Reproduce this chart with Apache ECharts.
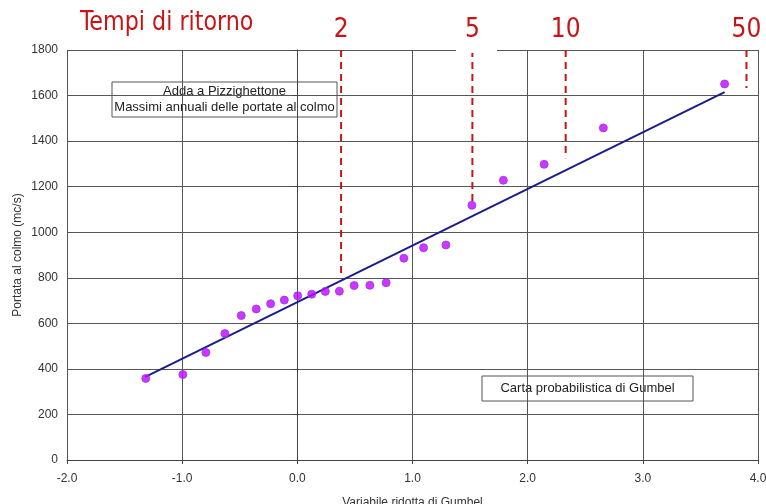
<!DOCTYPE html>
<html>
<head>
<meta charset="utf-8">
<script src="https://cdn.jsdelivr.net/npm/echarts@6/dist/echarts.min.js"></script>
<style>
  html, body { margin: 0; padding: 0; background: #fff; }
  #chart { width: 766px; height: 504px; }
</style>
</head>
<body>
<div id="chart"></div>
<script>
// Gumbel reduced variate of each ranked annual maximum
const reducedVariate = [-1.316, -0.994, -0.794, -0.629, -0.487, -0.357, -0.232, -0.113, 0.003, 0.125,
  0.243, 0.365, 0.493, 0.630, 0.771, 0.925, 1.096, 1.290, 1.516, 1.789, 2.143, 2.657, 3.710];
// Annual peak discharge (mc/s)
const peakDischarge = [358, 375, 472, 555, 634, 663, 686, 702, 721, 728,
  740, 741, 766, 767, 778, 886, 932, 944, 1118, 1228, 1298, 1458, 1651];
// Fitted Gumbel line end points
const fitX = [-1.32, 3.71];
const fitY = [365, 1615];
// Return periods and their reduced variate / line end on the chart
const returnPeriods = ['2', '5', '10', '50'];
const returnX = [0.38, 1.52, 2.33, 3.90];
const returnYEnd = [800, 1118, 1325, 1633];
const xTicks = { min: -2, max: 4, step: 1 };
const yTicks = { min: 0, max: 1800, step: 200 };

const chart = echarts.init(document.getElementById('chart'), null, { renderer: 'canvas' });
const axisFont = { fontFamily: 'Liberation Sans, Arial, sans-serif', fontSize: 12, color: '#333' };
const red = '#c81414';
const redFont = 'DejaVu Sans Condensed, Liberation Sans Narrow, sans-serif';

const returnSeries = returnPeriods.map((t, i) => ({
  type: 'line',
  silent: true,
  symbol: 'none',
  lineStyle: { color: red, width: 2, type: [7, 5] },
  data: [
    { value: [returnX[i], yTicks.max], symbol: 'circle', symbolSize: 0.1,
      label: { show: true, position: 'top', distance: 7, formatter: t,
        color: red, fontSize: 26, fontFamily: redFont } },
    [returnX[i], returnYEnd[i]]
  ],
  z: 4
}));

chart.setOption({
  animation: false,
  backgroundColor: '#fff',
  grid: { left: 67, right: 8, top: 50, bottom: 44, containLabel: false, outerBoundsMode: 'none' },
  xAxis: {
    type: 'value', min: xTicks.min, max: xTicks.max, interval: xTicks.step,
    name: 'Variabile ridotta di Gumbel', nameLocation: 'middle', nameGap: 37,
    nameMoveOverlap: false,
    nameTextStyle: axisFont,
    axisLine: { show: true, onZero: false, lineStyle: { color: '#444', width: 1 } },
    axisTick: { show: true, length: 4, lineStyle: { color: '#444' } },
    axisLabel: { ...axisFont, margin: 13, formatter: v => v.toFixed(1) },
    splitLine: { show: true, lineStyle: { color: '#555', width: 1 } }
  },
  yAxis: {
    type: 'value', min: yTicks.min, max: yTicks.max, interval: yTicks.step,
    name: 'Portata al colmo (mc/s)', nameLocation: 'middle', nameGap: 43,
    nameMoveOverlap: false,
    nameTextStyle: axisFont,
    axisLine: { show: true, lineStyle: { color: '#444', width: 1 } },
    axisTick: { show: true, length: 5, lineStyle: { color: '#444' } },
    axisLabel: { ...axisFont, margin: 9, formatter: v => String(v) },
    splitLine: { show: true, lineStyle: { color: '#555', width: 1 } }
  },
  series: [
    {
      type: 'line', silent: true, symbol: 'none',
      lineStyle: { color: '#1c1c8a', width: 2 },
      data: fitX.map((x, i) => [x, fitY[i]]),
      z: 3
    },
    {
      type: 'scatter', symbol: 'circle', symbolSize: 8,
      itemStyle: { color: '#cc00ff', borderColor: '#7a40ff', borderWidth: 1 },
      data: reducedVariate.map((x, i) => [x, peakDischarge[i]]),
      z: 5
    },
    ...returnSeries
  ],
  graphic: [
    { type: 'text', x: 80, y: 10, scaleX: 0.95, z: 10,
      style: { text: 'Tempi di ritorno', fill: red, fontSize: 26, fontFamily: redFont } },
    { type: 'rect', shape: { x: 456, y: 46, width: 41, height: 7 },
      style: { fill: '#fff' }, z: 10 },
    { type: 'group', x: 112, y: 82, z: 10, children: [
      { type: 'rect', shape: { x: 0, y: 0, width: 225, height: 35 },
        style: { fill: '#fff', stroke: '#555', lineWidth: 1 } },
      { type: 'text', x: 112.5, y: 17.5,
        style: { text: 'Adda a Pizzighettone\nMassimi annuali delle portate al colmo',
          align: 'center', verticalAlign: 'middle', lineHeight: 16,
          fontSize: 13, fill: '#222', fontFamily: 'Liberation Sans, Arial, sans-serif' } }
    ] },
    { type: 'group', x: 482, y: 376, z: 10, children: [
      { type: 'rect', shape: { x: 0, y: 0, width: 211, height: 25 },
        style: { fill: '#fff', stroke: '#555', lineWidth: 1 } },
      { type: 'text', x: 105.5, y: 12.5,
        style: { text: 'Carta probabilistica di Gumbel',
          align: 'center', verticalAlign: 'middle',
          fontSize: 13, fill: '#222', fontFamily: 'Liberation Sans, Arial, sans-serif' } }
    ] }
  ]
});
</script>
</body>
</html>
